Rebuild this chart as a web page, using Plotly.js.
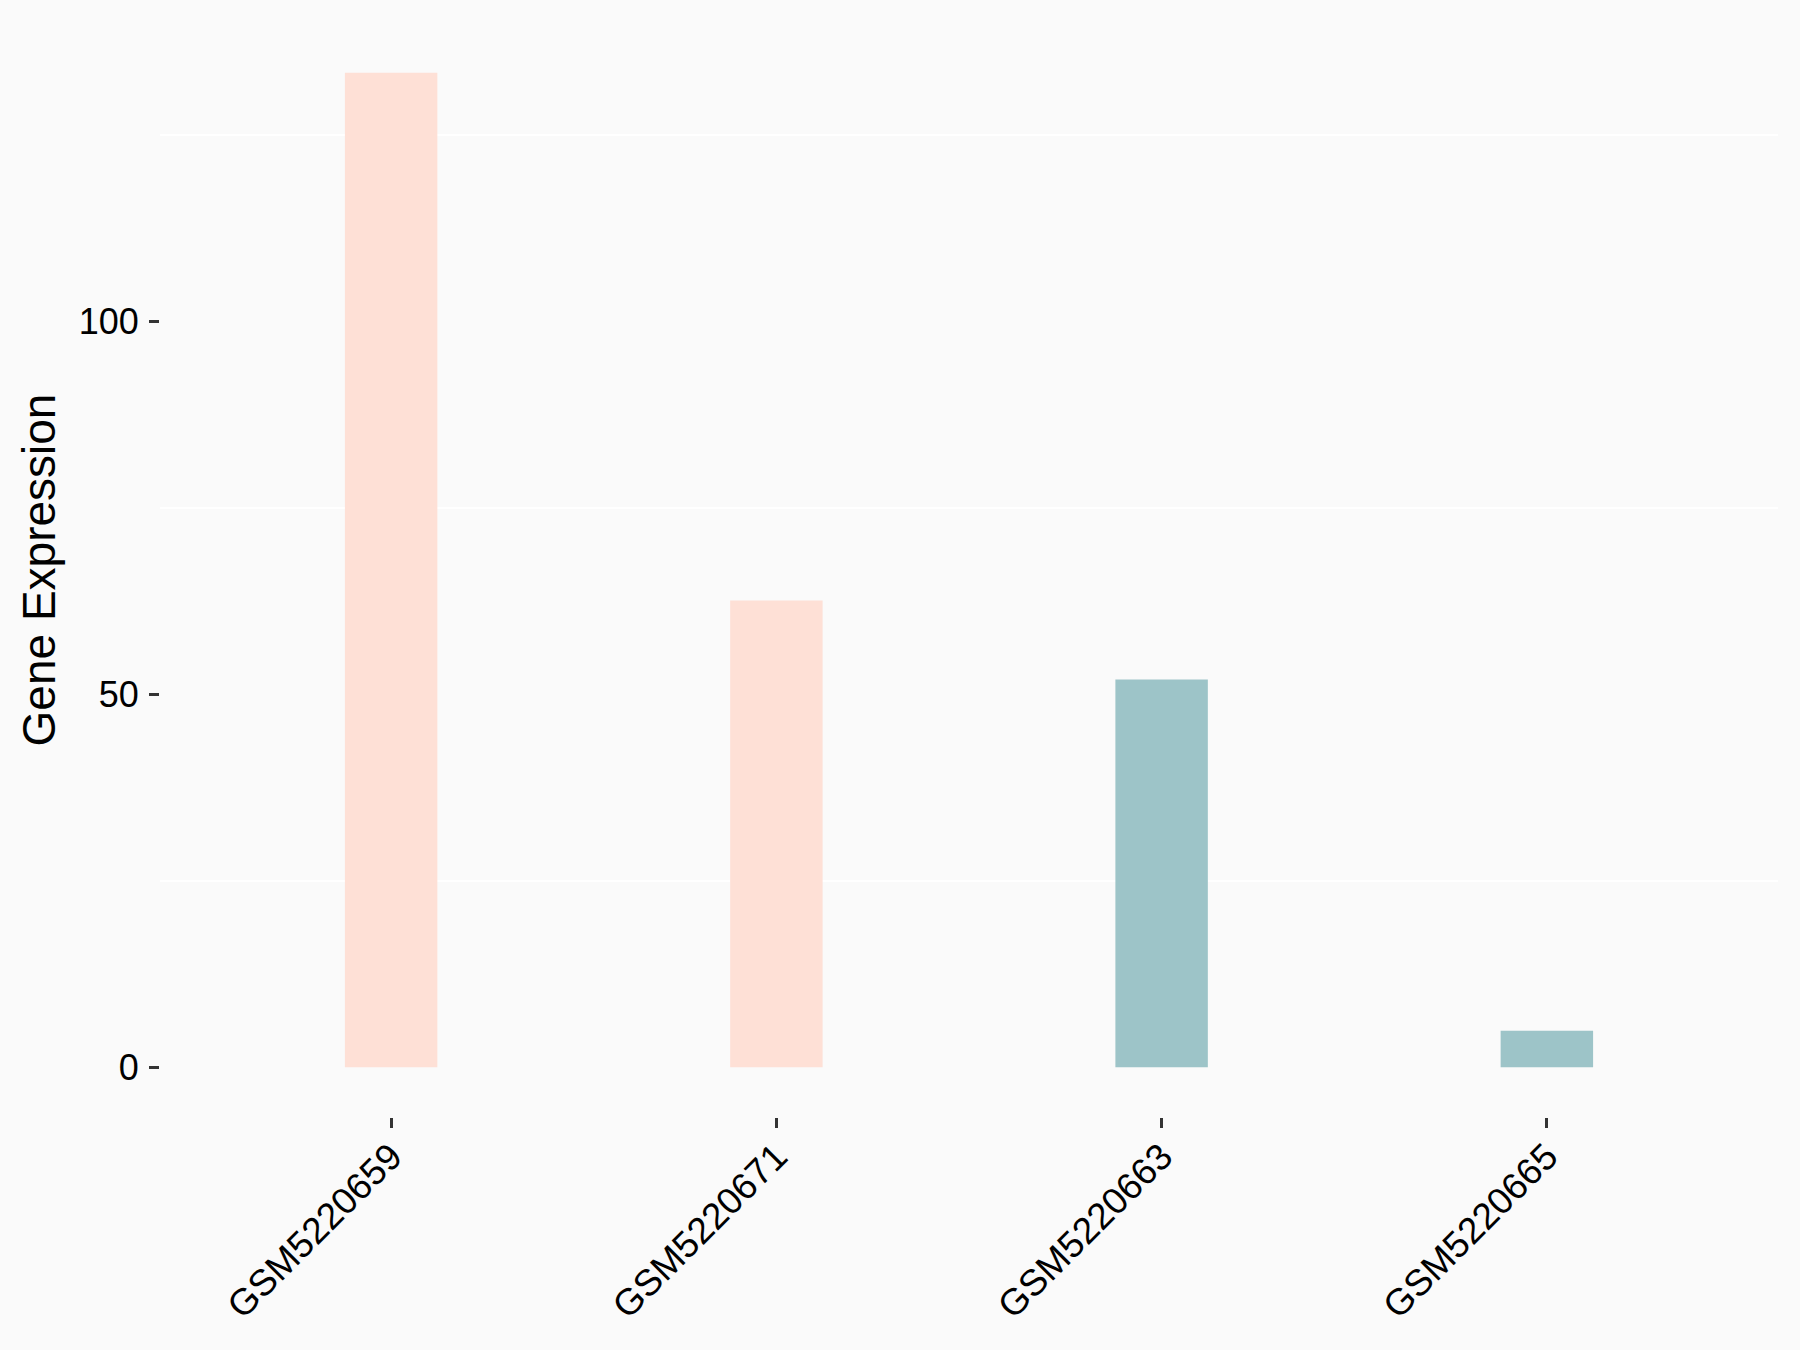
<!DOCTYPE html>
<html>
<head>
<meta charset="utf-8">
<script src="https://cdn.plot.ly/plotly-3.0.1.min.js"></script>
<style>html,body{margin:0;padding:0;background:#FAFAFA;}</style>
</head>
<body>
<div id="chart" style="width:1800px;height:1350px;"></div>
<script>
const samples = ["GSM5220659", "GSM5220671", "GSM5220663", "GSM5220665"];
const expression = [133.4, 62.6, 52.0, 4.9];
const barColors = ["#FEE0D6", "#FEE0D6", "#9DC4C8", "#9DC4C8"];
const yTickVals = [0, 50, 100];

const trace = {
  type: "bar",
  x: samples,
  y: expression,
  width: 0.24,
  marker: {color: barColors, line: {width: 0}},
  hoverinfo: "x+y"
};

const font = "Liberation Sans, Arial, sans-serif";
const layout = {
  width: 1800,
  height: 1350,
  paper_bgcolor: "#FAFAFA",
  plot_bgcolor: "#FAFAFA",
  showlegend: false,
  margin: {l: 160, r: 22, t: 23, b: 233},
  font: {family: font, color: "#000000"},
  xaxis: {
    type: "category",
    range: [-0.6, 3.6],
    showgrid: false,
    zeroline: false,
    showline: false,
    ticks: "outside",
    ticklen: 10,
    tickwidth: 3,
    tickcolor: "#333333",
    tickangle: -45,
    ticklabelstandoff: -8,
    tickfont: {family: font, size: 37, color: "#000000"}
  },
  yaxis: {
    range: [-6.67, 140.07],
    tickmode: "array",
    tickvals: yTickVals,
    ticktext: yTickVals.map(String),
    showgrid: false,
    zeroline: false,
    showline: false,
    ticks: "outside",
    ticklen: 10,
    tickwidth: 3,
    tickcolor: "#333333",
    ticklabelstandoff: 3,
    tickfont: {family: font, size: 36, color: "#000000"},
    minor: {tick0: 25, dtick: 50, showgrid: true, gridcolor: "#FFFFFF", gridwidth: 2, ticks: ""},
    title: {text: "Gene Expression", font: {family: font, size: 46, color: "#000000"}, standoff: 8}
  }
};

Plotly.newPlot("chart", [trace], layout, {displayModeBar: false, staticPlot: true});
</script>
</body>
</html>
